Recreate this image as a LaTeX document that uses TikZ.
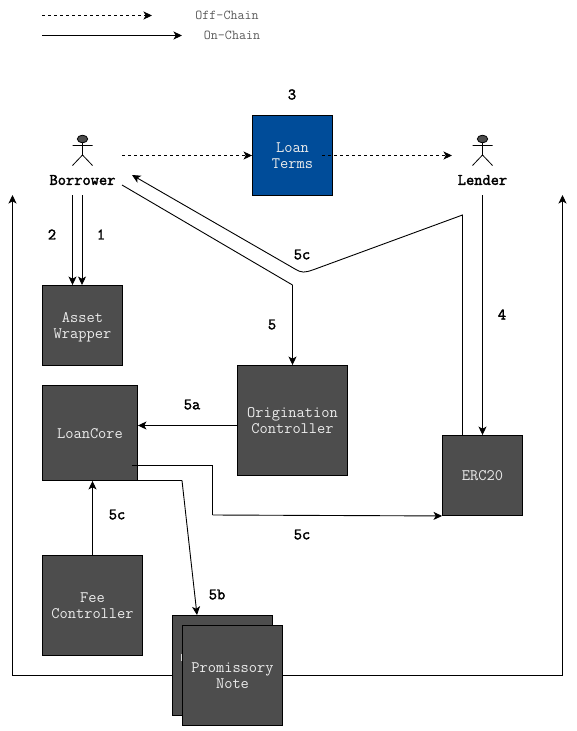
\documentclass[tikz,border=0pt]{standalone}
\usepackage{fontspec}
\usetikzlibrary{arrows.meta}
\newfontfamily\labelmono[FakeBold=2.2]{Latin Modern Mono}
\definecolor{boxgray}{HTML}{4D4D4D}
\definecolor{loanblue}{HTML}{004C99}
\definecolor{labelgray}{HTML}{5A5A5A}
\tikzset{
  conn/.style={draw=black,line width=0.9pt,-{Stealth[length=8.5pt,width=8pt,inset=2.2pt]}},
  plain/.style={draw=black,line width=0.9pt},
  offchain/.style={conn,dash pattern=on 3pt off 3pt},
  block/.style={draw=black,line width=0.9pt,fill=boxgray,text=white!92!black,inner sep=0pt,align=center,
    font=\fontsize{16pt}{16pt}\selectfont\ttfamily},
  legendtext/.style={text=labelgray,inner sep=0pt,font=\fontsize{13.6pt}{14pt}\selectfont\ttfamily},
  steplabel/.style={inner sep=0pt,font=\fontsize{16pt}{16pt}\selectfont\labelmono},
  actorline/.style={draw=black,line width=0.8pt},
}
\begin{document}
\begin{tikzpicture}[x=1pt,y=-1pt]
\useasboundingbox (0,0) rectangle (576,731);

% legend
\coordinate (l1a) at (42,15.5); \coordinate (l1b) at (152,15.5);
\coordinate (l2a) at (42,35.5); \coordinate (l2b) at (182,35.5);
\draw[offchain] (l1a) -- (l1b);
\draw[conn] (l2a) -- (l2b);
\node[legendtext] (off) at (227,15.5) {Off-Chain};
\node[legendtext] (on) at (232,35.5) {On-Chain};

% actors
\foreach \ax in {82.5,482.5}{
  \draw[actorline,fill=boxgray] (\ax,139) ellipse [x radius=5.2pt,y radius=3.8pt];
  \draw[actorline] (\ax,143) -- (\ax,155) (\ax-10,145.5) -- (\ax+10,145.5)
    (\ax-10,165.5) -- (\ax,155) -- (\ax+10,165.5);
}
\node[steplabel] (borrower) at (82.5,180) {Borrower};
\node[steplabel] (lender) at (482.5,180) {Lender};

% boxes
\node[block,fill=loanblue,minimum width=80pt,minimum height=80pt] (terms) at (292.5,155.5) {Loan\\Terms};
\node[block,minimum width=80pt,minimum height=80pt] (wrapper) at (82.5,325.5) {Asset\\\raisebox{0pt}[\height][0pt]{Wrapper}};
\node[block,minimum width=95pt,minimum height=95pt] (core) at (90,433) {\raisebox{-1pt}[\height][0pt]{LoanCore}};
\node[block,minimum width=110pt,minimum height=110pt] (orig) at (292.5,420.5) {Origination\\Controller};
\node[block,minimum width=80pt,minimum height=80pt] (erc) at (482.5,475.5) {ERC20};
\node[block,minimum width=100pt,minimum height=100pt] (fee) at (92.5,605.5) {Fee\\Controller};

% free ends
\coordinate (bo1) at (122,155.5);
\coordinate (te1) at (322,155.5);
\coordinate (le1) at (452,155.5);
\coordinate (a2) at (72.5,195);
\coordinate (a1) at (82,195);
\coordinate (b5s) at (122,185);
\coordinate (b5k) at (292.5,285);
\coordinate (b5e) at (132,175);
\coordinate (r1) at (462.5,215);
\coordinate (co1) at (132,465.5);
\coordinate (co2) at (212.5,465.5);
\coordinate (co3) at (212.5,515);
\coordinate (co4) at (137,480.5);
\coordinate (co5) at (182,480.5);
\coordinate (pn) at (197,615);
\coordinate (lu) at (12.5,195);
\coordinate (ll) at (12.5,675.5);
\coordinate (ru) at (562.5,195);
\coordinate (rl) at (562.5,675.5);
\coordinate (li) at (425,425.5);

% connectors
\draw[offchain] (bo1) -- (terms.west);
\draw[offchain] (te1) -- (le1);
\draw[conn] (a2) -- (a2 |- wrapper.north);
\draw[conn] (a1) -- (a1 |- wrapper.north);
\draw[plain] (b5s) -- (b5k);
\draw[conn] (b5k) -- (orig.north);
\draw[conn] (erc.north -| r1) -- (r1) -- (314,269.5) .. controls (304,273) and (302,273) .. (295,269) -- (b5e);
\draw[conn] (erc.north |- 0,195) -- (erc.north);
\draw[conn] (orig.west |- li) -- (core.east |- li);
\draw[conn] (fee.north) -- (fee.north |- core.south);
\draw[plain] (co1) -- (co2) -- (co3);
\draw[conn] (co3) -- (erc.south west);
\draw[plain] (co4) -- (co5);
\draw[conn] (co5) -- (pn);

% promissory note stack
\node[block,minimum width=100pt,minimum height=100pt] (noteb) at (222.5,665.5) {};
\draw[conn] (noteb.west |- ll) -- (ll) -- (lu);
\draw[white!85!black,line width=0.7pt] (181,654) -- (181,661);
\node[block,minimum width=100pt,minimum height=100pt] (notef) at (232.5,675.5) {Promissory\\Note};
\draw[conn] (notef.east) -- (rl) -- (ru);

% step labels
\node[steplabel] (s3) at (292,94.5) {3};
\node[steplabel] (s2) at (52,234.5) {2};
\node[steplabel] (s1) at (101,234.5) {1};
\node[steplabel] (s5c1) at (302,254.5) {5c};
\node[steplabel] (s5) at (272,324.5) {5};
\node[steplabel] (s4) at (502,314.5) {4};
\node[steplabel] (s5a) at (192,404.5) {5a};
\node[steplabel] (s5c2) at (117,514.5) {5c};
\node[steplabel] (s5c3) at (302,534.5) {5c};
\node[steplabel] (s5b) at (217,594.5) {5b};
\end{tikzpicture}
\end{document}
